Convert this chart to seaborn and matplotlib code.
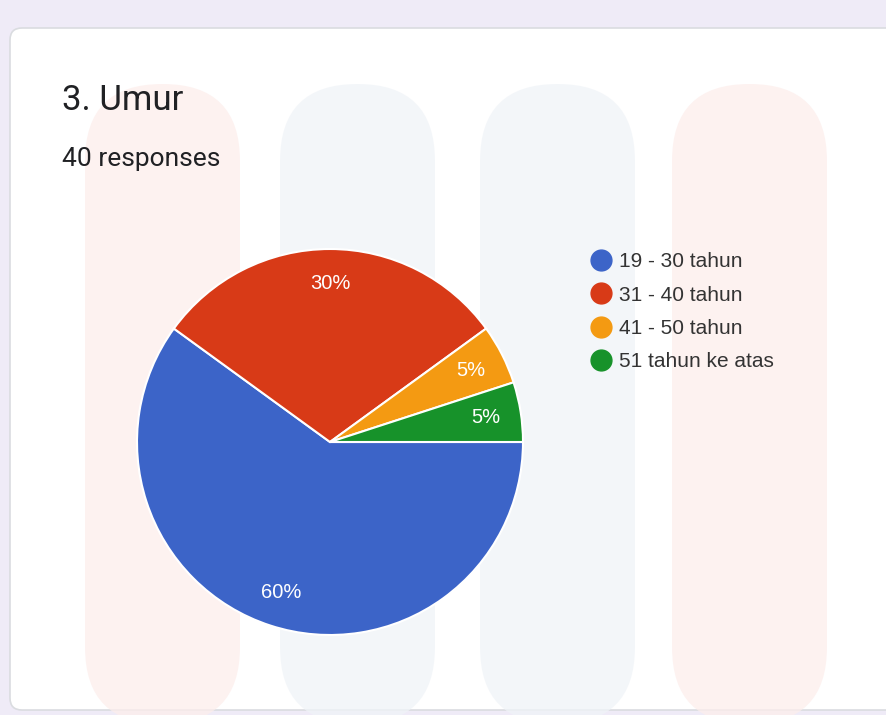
import matplotlib
matplotlib.use("Agg")
import matplotlib.pyplot as plt
from matplotlib.patches import FancyBboxPatch
from matplotlib.lines import Line2D
import seaborn as sns

categories = ["19 - 30 tahun", "31 - 40 tahun", "41 - 50 tahun", "51 tahun ke atas"]
values = [60, 30, 5, 5]
colors = ["#3C64C8", "#D83A17", "#F49A12", "#17922A"]
title = "3. Umur"
subtitle = "40 responses"

sns.set_theme(style="white")
plt.rcParams['font.family'] = ['Roboto', 'DejaVu Sans']

W, H = 887, 715
fig = plt.figure(figsize=(W / 100, H / 100), dpi=100)
fig.patch.set_facecolor("#EFEBF7")

bg = fig.add_axes([0, 0, 1, 1])
bg.set_xlim(0, W)
bg.set_ylim(H, 0)
bg.axis("off")
# card
card = FancyBboxPatch((10, 28), 900, 682, boxstyle="round,pad=0,rounding_size=12",
                      facecolor="white", edgecolor="#DADCE0", linewidth=1.2)
bg.add_patch(card)
# faint watermark pills
for x0, col in [(85, "#FDEEEC"), (280, "#F0F4F8"), (480, "#F0F4F8"), (672, "#FDEEEC")]:
    bg.add_patch(FancyBboxPatch((x0, 84), 155, 640, boxstyle="round,pad=0,rounding_size=77",
                                facecolor=col, edgecolor="none", alpha=0.75))

bg.text(62, 100, title, fontsize=25, color="#202124", va="center", ha="left")
bg.text(62, 159, subtitle, fontsize=19, color="#202124", va="center", ha="left")

cx, cy, r = 330, 442, 193
ax = fig.add_axes([(cx - r) / W, (H - cy - r) / H, 2 * r / W, 2 * r / H])
wedges, texts, autotexts = ax.pie(values, colors=colors, startangle=0, counterclock=False,
                                  autopct="%d%%", pctdistance=0.82,
                                  wedgeprops=dict(edgecolor="white", linewidth=1.5),
                                  textprops=dict(color="white", fontsize=14.5,
                                                 family=["Liberation Sans", "DejaVu Sans"]))
ax.set_xlim(-1, 1)
ax.set_ylim(-1, 1)
ax.set_aspect("auto")

handles = [Line2D([0], [0], marker="o", linestyle="none", markersize=15,
                  markerfacecolor=c, markeredgecolor=c) for c in colors]
leg = fig.legend(handles, categories, loc="upper left", bbox_to_anchor=(580 / W, 1 - 244 / H),
                 frameon=False, labelspacing=0.69, handletextpad=0.25,
                 borderaxespad=0, handlelength=1.2, labelcolor="#333333",
                 prop=dict(family=["Liberation Sans", "DejaVu Sans"], size=15))

fig.savefig("out.png", dpi=100, facecolor=fig.get_facecolor())
